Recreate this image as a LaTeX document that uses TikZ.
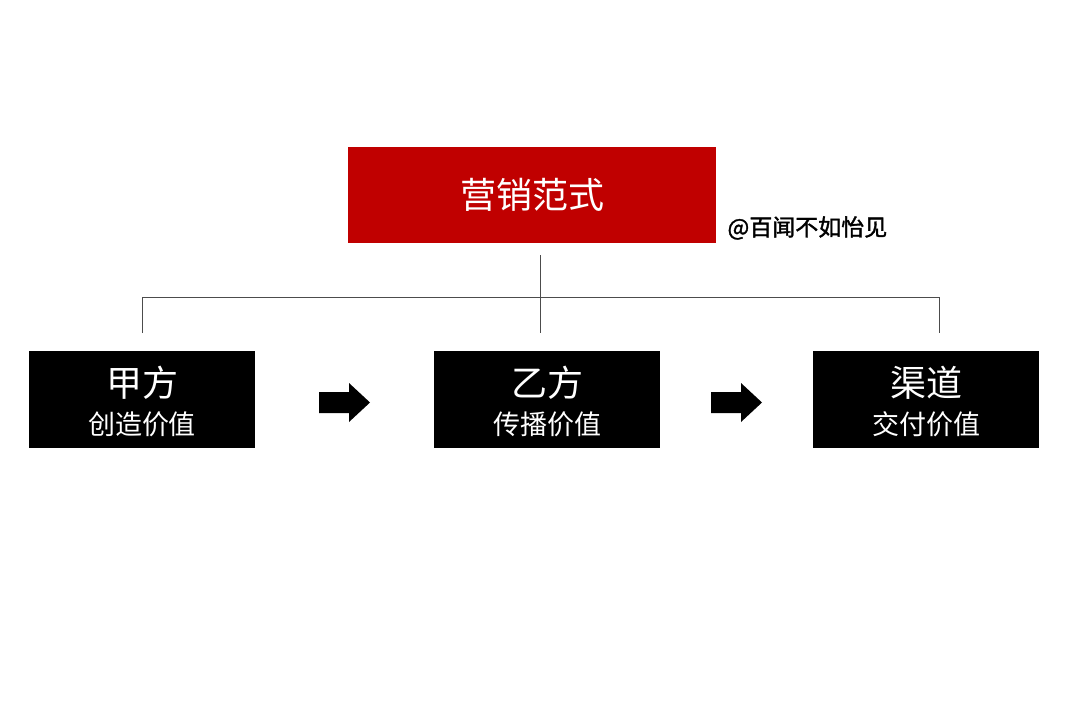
\documentclass[tikz,border=0pt]{standalone}
\usepackage{fontspec}
\newfontfamily\cjk{Noto Sans CJK SC}
\newfontfamily\cjkb{Noto Sans CJK SC}[FakeBold=1.5]
\definecolor{myred}{HTML}{C00000}
\begin{document}
\begin{tikzpicture}[x=1pt,y=-1pt,
  blk/.style={fill=black,minimum width=226pt,minimum height=97pt,inner sep=0pt},
  ttl/.style={text=white,inner sep=0pt,font=\cjk\fontsize{36}{40}\selectfont},
  sub/.style={text=white,inner sep=0pt,font=\cjk\fontsize{27}{30}\selectfont},
  conn/.style={draw=black!70,line width=0.8pt},
  barrow/.style={fill=black,draw=none}]
\useasboundingbox (0,0) rectangle (1080,721);
\node[fill=myred,minimum width=368pt,minimum height=96pt,inner sep=0pt,text=white,font=\cjk\fontsize{36}{40}\selectfont] (top) at (532,195) {营销范式};
\node[anchor=west,font=\cjkb\fontsize{23}{26}\selectfont] (wm) at (724,228) {@百闻不如怡见};
\node[blk] (a) at (142,399.5) {};
\node[blk] (b) at (547,399.5) {};
\node[blk] (c) at (926,399.5) {};
\node[ttl] (at) at (142,383) {甲方};
\node[sub] (as) at (142,424) {创造价值};
\node[ttl] (bt) at (547,383) {乙方};
\node[sub] (bs) at (547,424) {传播价值};
\node[ttl] (ct) at (926,383) {渠道};
\node[sub] (cs) at (926,424) {交付价值};
\coordinate (ja) at (142,297);
\coordinate (jc) at (939,297);
\coordinate (topb) at (540,255);
\draw[conn] (topb) -- (540,333);
\draw[conn] (142,333) -- (ja) -- (jc) -- (939,333);
\foreach \x in {319,711}{
  \fill[barrow] (\x,392) -- (\x+30,392) -- (\x+30,383) -- (\x+51,402.5) -- (\x+30,422) -- (\x+30,413) -- (\x,413) -- cycle;
}
\end{tikzpicture}
\end{document}
